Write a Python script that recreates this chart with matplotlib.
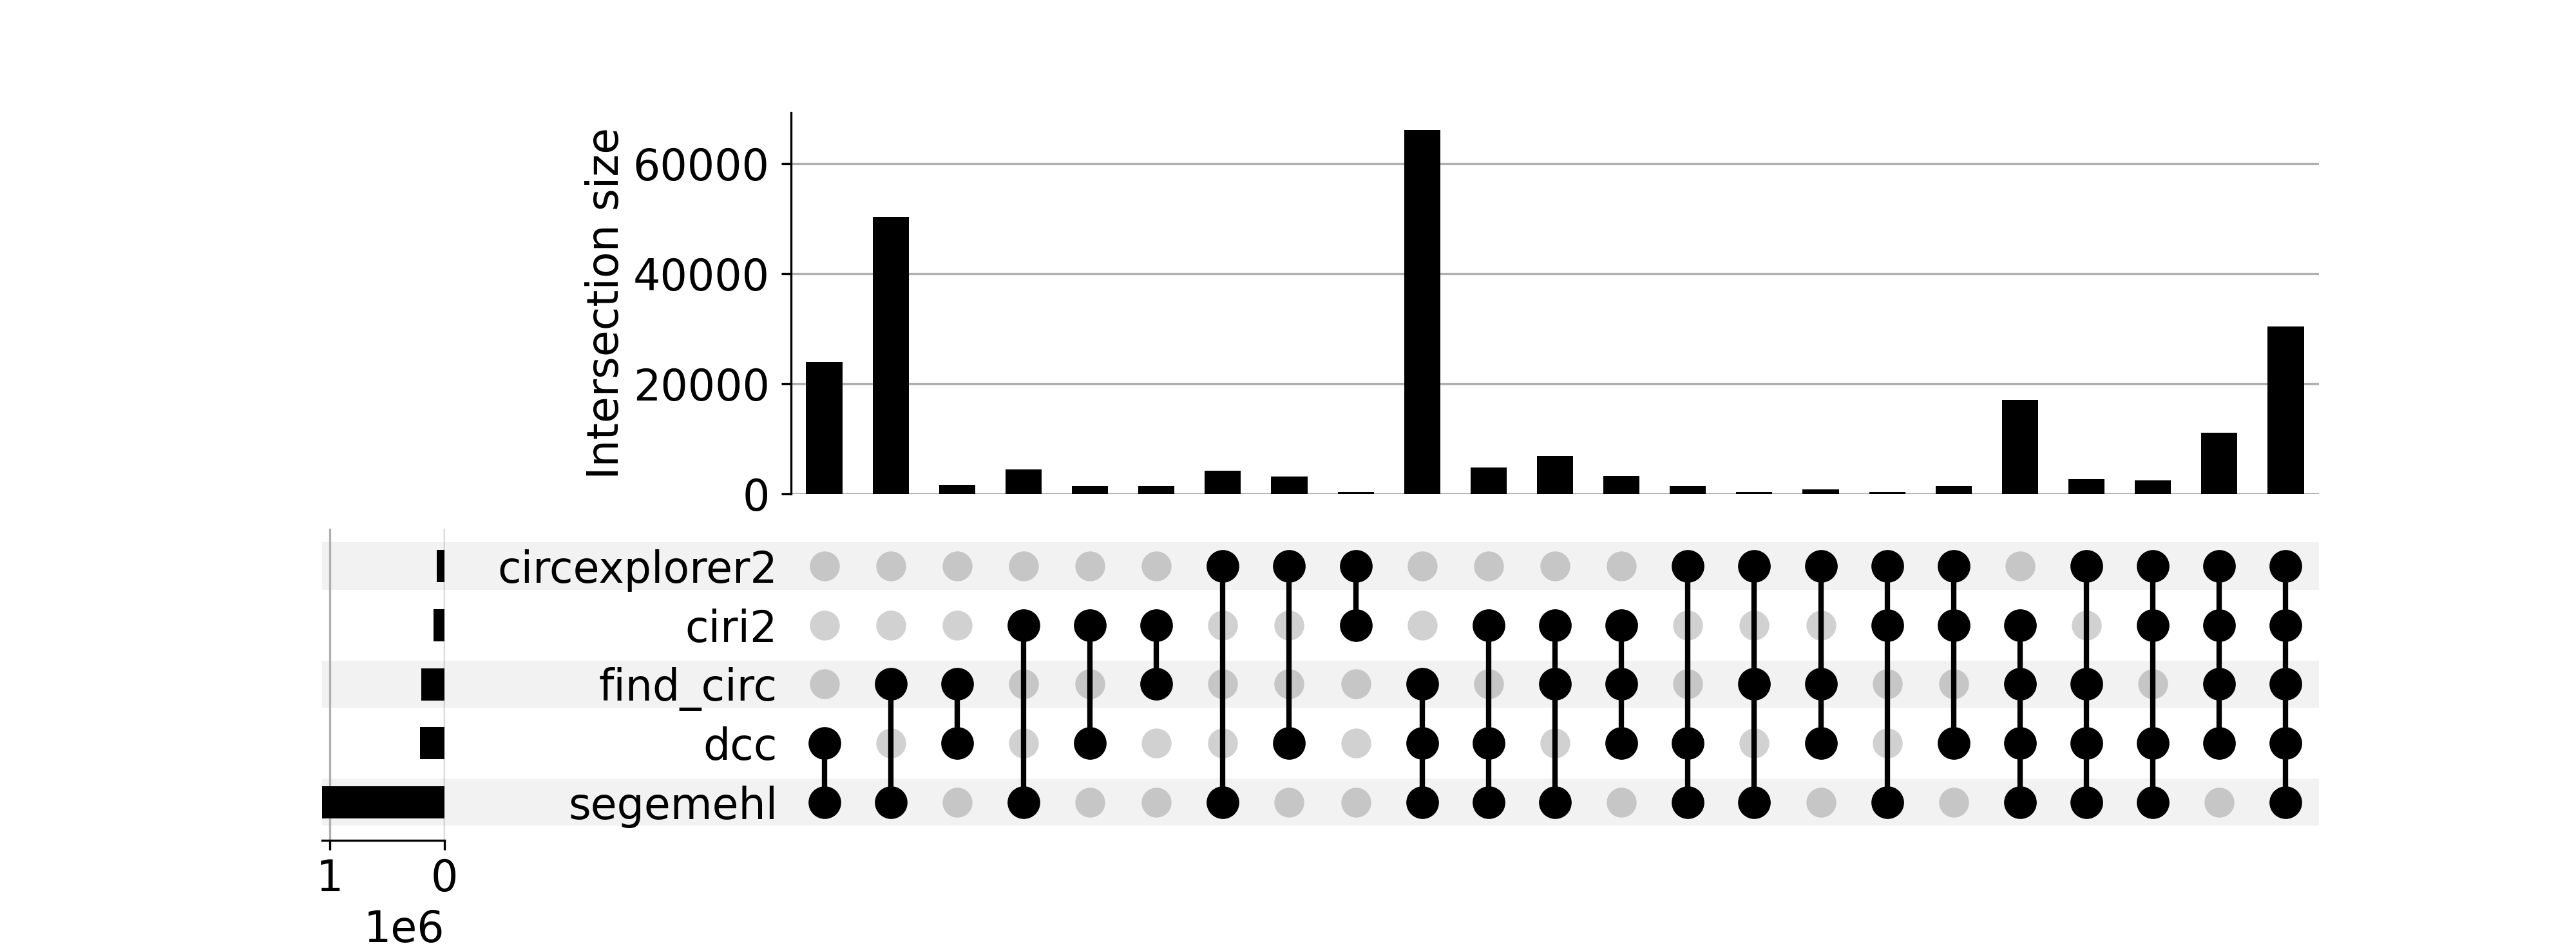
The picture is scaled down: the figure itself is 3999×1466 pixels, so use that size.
import matplotlib
matplotlib.use("Agg")
import matplotlib.pyplot as plt
import numpy as np

# ---- data ----
sets = ["circexplorer2", "ciri2", "find_circ", "dcc", "segemehl"]
set_totals = [71000, 99000, 206000, 217000, 1067000]

memberships = [
    ["dcc", "segemehl"],
    ["find_circ", "segemehl"],
    ["find_circ", "dcc"],
    ["ciri2", "segemehl"],
    ["ciri2", "dcc"],
    ["ciri2", "find_circ"],
    ["circexplorer2", "segemehl"],
    ["circexplorer2", "dcc"],
    ["circexplorer2", "ciri2"],
    ["find_circ", "dcc", "segemehl"],
    ["ciri2", "dcc", "segemehl"],
    ["ciri2", "find_circ", "segemehl"],
    ["ciri2", "find_circ", "dcc"],
    ["circexplorer2", "dcc", "segemehl"],
    ["circexplorer2", "find_circ", "segemehl"],
    ["circexplorer2", "find_circ", "dcc"],
    ["circexplorer2", "ciri2", "segemehl"],
    ["circexplorer2", "ciri2", "dcc"],
    ["ciri2", "find_circ", "dcc", "segemehl"],
    ["circexplorer2", "find_circ", "dcc", "segemehl"],
    ["circexplorer2", "ciri2", "dcc", "segemehl"],
    ["circexplorer2", "ciri2", "find_circ", "dcc"],
    ["circexplorer2", "ciri2", "find_circ", "dcc", "segemehl"],
]
intersection_sizes = [24070, 50335, 1722, 4498, 1388, 1388, 4211, 3158, 335,
                      66172, 4880, 6986, 3349, 1388, 431, 813, 431, 1388,
                      17081, 2775, 2536, 11196, 30431]

# ---- figure ----
W, H = 3999, 1466
DPI = 300
fig = plt.figure(figsize=(W / DPI, H / DPI), dpi=DPI)
FS = 16

def rect(x0, x1, ytop, ybot):
    return [x0 / W, 1 - ybot / H, (x1 - x0) / W, (ybot - ytop) / H]

n = len(intersection_sizes)
nrows = len(sets)
row_y = {s: nrows - 1 - i for i, s in enumerate(sets)}

# shading axes (background, spans totals + matrix)
ax_sh = fig.add_axes(rect(500, 3600, 833.2, 1291.6), zorder=0)
ax_sh.set_xlim(0, 1)
ax_sh.set_ylim(-0.5, nrows - 0.5)
ax_sh.axis("off")
for i, s in enumerate(sets):
    if i % 2 == 0:
        y = row_y[s]
        ax_sh.add_patch(plt.Rectangle((0, y - 0.4), 1, 0.8, facecolor="black",
                                      alpha=0.05, edgecolor="none"))

# intersection bars
ax_bar = fig.add_axes(rect(1228, 3600, 174.5, 767.3), zorder=2)
x = np.arange(n)
ax_bar.bar(x, intersection_sizes, width=0.545, color="black", zorder=10)
ax_bar.set_xlim(-0.5, n - 0.5)
ax_bar.set_ylim(0, max(intersection_sizes) * 1.048)
ax_bar.set_yticks([0, 20000, 40000, 60000])
ax_bar.yaxis.grid(True, color="#b0b0b0", linewidth=0.8)
ax_bar.set_axisbelow(True)
ax_bar.set_xticks([])
for sp in ["top", "right", "bottom"]:
    ax_bar.spines[sp].set_visible(False)
ax_bar.tick_params(axis="y", labelsize=FS, pad=4.5)
ax_bar.set_ylabel("Intersection size", fontsize=FS, labelpad=2)
ax_bar.patch.set_alpha(0)

# matrix
ax_m = fig.add_axes(rect(1228, 3600, 833.2, 1291.6), zorder=1)
ax_m.patch.set_alpha(0)
ax_m.set_xlim(-0.5, n - 0.5)
ax_m.set_ylim(-0.5, nrows - 0.5)
gx, gy, bx, by = [], [], [], []
for j, mem in enumerate(memberships):
    for s in sets:
        if s in mem:
            bx.append(j); by.append(row_y[s])
        else:
            gx.append(j); gy.append(row_y[s])
    ys = [row_y[s] for s in mem]
    ax_m.vlines(j, min(ys), max(ys), color="black", linewidth=2.0, zorder=2)
ax_m.scatter(gx, gy, s=124, color="black", alpha=0.18, linewidths=0, zorder=1)
ax_m.scatter(bx, by, s=148, color="black", linewidths=0, zorder=3)
ax_m.set_xticks([])
ax_m.set_yticks([row_y[s] for s in sets])
ax_m.set_yticklabels(sets, fontsize=FS)
ax_m.tick_params(axis="y", length=0, pad=5)
for sp in ax_m.spines.values():
    sp.set_visible(False)

# totals
ax_t = fig.add_axes(rect(500, 690.3, 821, 1305), zorder=2)
ax_t.patch.set_alpha(0)
ax_t.barh([row_y[s] for s in sets], set_totals, height=0.545, color="black", zorder=10)
ax_t.set_ylim(-0.645, nrows - 1 + 0.635)
ax_t.set_xlim(max(set_totals), 0)
ax_t.set_xticks([1000000, 0])
ax_t.xaxis.grid(True, color="#b0b0b0", linewidth=0.8)
ax_t.set_axisbelow(True)
ax_t.set_yticks([])
for sp in ["top", "left", "right"]:
    ax_t.spines[sp].set_visible(False)
ax_t.tick_params(axis="x", labelsize=FS, pad=3.0)
ax_t.xaxis.get_offset_text().set_fontsize(FS)

fig.savefig("out.png", dpi=DPI)
